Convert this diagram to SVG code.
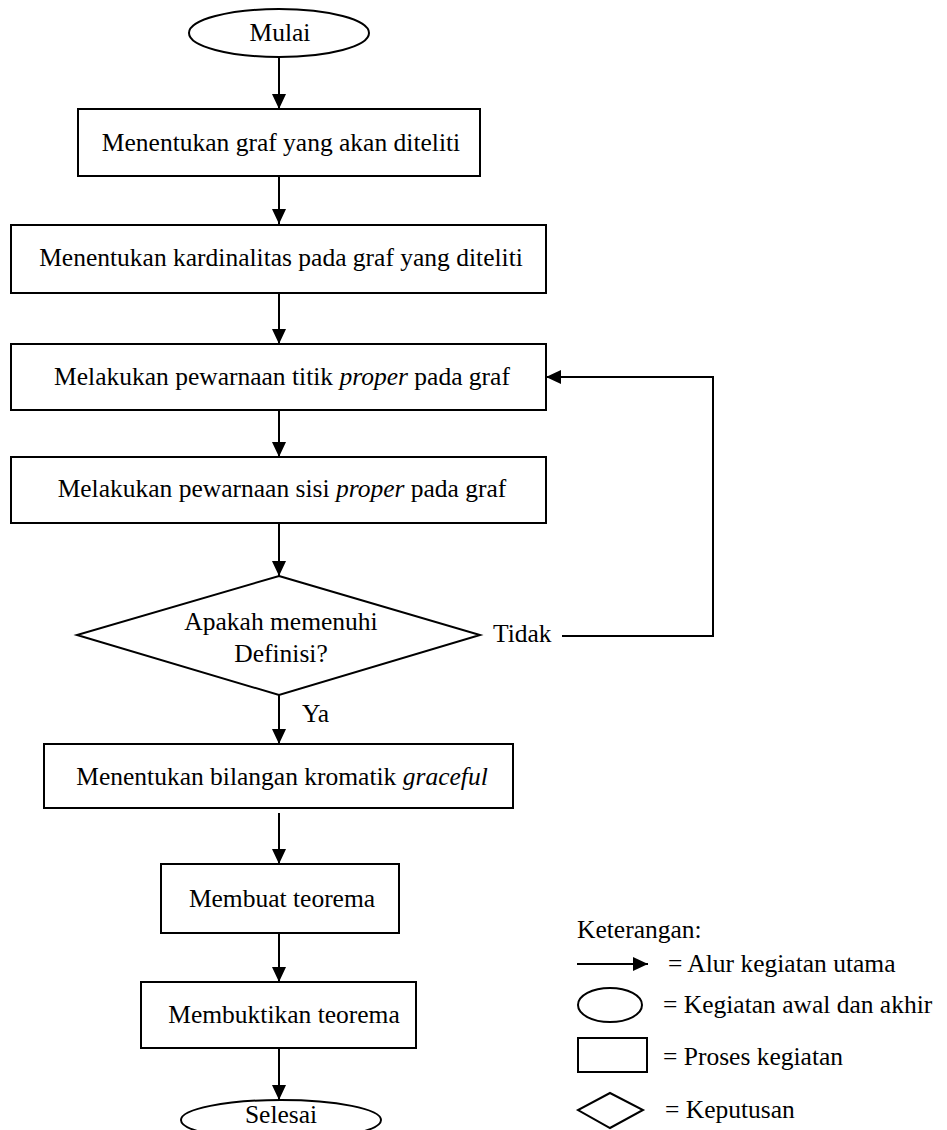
<svg xmlns="http://www.w3.org/2000/svg" width="947" height="1130" viewBox="0 0 947 1130">
<defs>
<marker id="ah" markerUnits="userSpaceOnUse" markerWidth="16" markerHeight="16" refX="15" refY="7" orient="auto">
<path d="M0,0 L15,7 L0,14 Z" fill="#000"/>
</marker>
</defs>
<style>
.s{fill:#fff;stroke:#000;stroke-width:2}
.t{font-family:"Liberation Serif","Times New Roman",serif;font-size:25.5px;fill:#000}
.c{text-anchor:middle}
.i{font-style:italic}
.e{fill:none;stroke:#000;stroke-width:2}
</style>
<rect width="947" height="1130" fill="#fff"/>
<g id="connectors">
<line class="e" x1="279" y1="57" x2="279" y2="109" marker-end="url(#ah)"/>
<line class="e" x1="279" y1="176" x2="279" y2="224" marker-end="url(#ah)"/>
<line class="e" x1="279" y1="293" x2="279" y2="344" marker-end="url(#ah)"/>
<line class="e" x1="279" y1="410" x2="279" y2="457" marker-end="url(#ah)"/>
<line class="e" x1="279" y1="523" x2="279" y2="576" marker-end="url(#ah)"/>
<line class="e" x1="279" y1="695" x2="279" y2="744" marker-end="url(#ah)"/>
<line class="e" x1="279" y1="813" x2="279" y2="864" marker-end="url(#ah)"/>
<line class="e" x1="279" y1="933" x2="279" y2="982" marker-end="url(#ah)"/>
<line class="e" x1="279" y1="1048" x2="279" y2="1100" marker-end="url(#ah)"/>
<polyline class="e" points="562,636 713,636 713,377 546,377" marker-end="url(#ah)"/>
<text class="t" x="493" y="642">Tidak</text>
<text class="t" x="302" y="722">Ya</text>
</g>
<g id="start">
<ellipse class="s" cx="279" cy="33" rx="90" ry="24"/>
<text class="t c" x="280" y="41">Mulai</text>
</g>
<g id="box1">
<rect class="s" x="78" y="109" width="402" height="67"/>
<text class="t c" x="281" y="151">Menentukan graf yang akan diteliti</text>
</g>
<g id="box2">
<rect class="s" x="11" y="225" width="535" height="68"/>
<text class="t c" x="281" y="266">Menentukan kardinalitas pada graf yang diteliti</text>
</g>
<g id="box3">
<rect class="s" x="11" y="344" width="535" height="66"/>
<text class="t c" x="282" y="385">Melakukan pewarnaan titik <tspan class="i">proper</tspan> pada graf</text>
</g>
<g id="box4">
<rect class="s" x="11" y="457" width="535" height="66"/>
<text class="t c" x="282" y="497">Melakukan pewarnaan sisi <tspan class="i">proper</tspan> pada graf</text>
</g>
<g id="decision">
<polygon class="s" points="279,576 480,635 279,695 77,635"/>
<text class="t c" x="281" y="630">Apakah memenuhi</text>
<text class="t c" x="281" y="662">Definisi?</text>
</g>
<g id="box5">
<rect class="s" x="44" y="744" width="469" height="64"/>
<text class="t c" x="282" y="785">Menentukan bilangan kromatik <tspan class="i">graceful</tspan></text>
</g>
<g id="box6">
<rect class="s" x="161" y="864" width="238" height="69"/>
<text class="t c" x="282" y="907">Membuat teorema</text>
</g>
<g id="box7">
<rect class="s" x="141" y="982" width="275" height="66"/>
<text class="t c" x="284" y="1023">Membuktikan teorema</text>
</g>
<g id="end">
<ellipse class="s" cx="281" cy="1120" rx="100" ry="20"/>
<text class="t c" x="281" y="1123">Selesai</text>
</g>
<g id="legend">
<text class="t" x="577" y="938">Keterangan:</text>
<line class="e" x1="577" y1="964" x2="648" y2="964" marker-end="url(#ah)"/>
<text class="t" x="668" y="972">= Alur kegiatan utama</text>
<ellipse class="s" cx="610" cy="1005" rx="32" ry="17"/>
<text class="t" x="663" y="1013">= Kegiatan awal dan akhir</text>
<rect class="s" x="578" y="1038" width="69" height="34"/>
<text class="t" x="663" y="1065">= Proses kegiatan</text>
<polygon class="s" points="610,1093 643,1110 610,1128 578,1110"/>
<text class="t" x="665" y="1118">= Keputusan</text>
</g>
</svg>
